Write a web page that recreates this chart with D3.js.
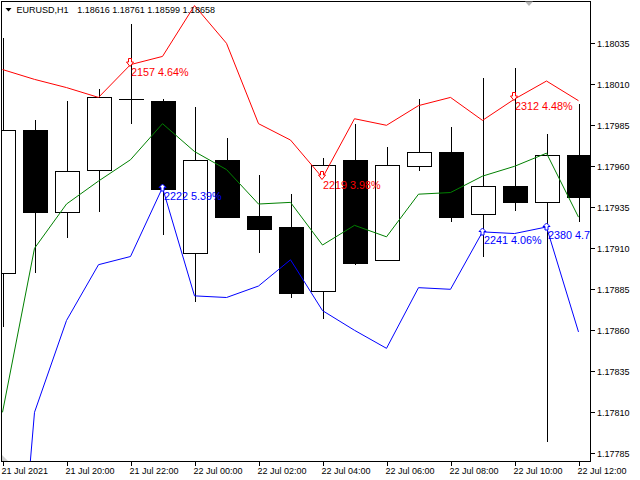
<!DOCTYPE html>
<html><head><meta charset="utf-8">
<script src="https://cdn.jsdelivr.net/npm/d3@7/dist/d3.min.js"></script>
<style>html,body{margin:0;padding:0;background:#fff;}svg{display:block;}</style>
</head><body>
<svg id="c" width="640" height="480"></svg>
<script>
// ---- data ----
const times = ["21 Jul 18:00","21 Jul 19:00","21 Jul 20:00","21 Jul 21:00","21 Jul 22:00","21 Jul 23:00",
  "22 Jul 00:00","22 Jul 01:00","22 Jul 02:00","22 Jul 03:00","22 Jul 04:00","22 Jul 05:00","22 Jul 06:00",
  "22 Jul 07:00","22 Jul 08:00","22 Jul 09:00","22 Jul 10:00","22 Jul 11:00","22 Jul 12:00"];
const opens  = [1.17895,1.17982,1.17932,1.17958,1.18001,1.18000,1.17907,1.17964,1.17930,1.17923,1.17884,1.17964,1.17903,1.17960,1.17969,1.17931,1.17948,1.17938,1.17967];
const highs  = [1.18038,1.17988,1.18000,1.18007,1.18047,1.18001,1.17996,1.17977,1.17955,1.17943,1.17965,1.17986,1.17972,1.18001,1.17984,1.18014,1.18020,1.17980,1.17998];
const lows   = [1.17862,1.17895,1.17916,1.17932,1.17986,1.17918,1.17877,1.17929,1.17907,1.17880,1.17867,1.17900,1.17903,1.17957,1.17926,1.17905,1.17933,1.17792,1.17926];
const closes = [1.17982,1.17932,1.17957,1.18002,1.18001,1.17946,1.17964,1.17929,1.17922,1.17883,1.17961,1.17901,1.17961,1.17969,1.17929,1.17948,1.17938,1.17967,1.17941];
const upperBand  = [1.18019,1.18013,1.18008,1.18002,1.18022,1.18027,1.18058,1.18035,1.17986,1.17976,1.17953,1.17989,1.17985,1.17997,1.18002,1.17988,1.18001,1.18012,1.18000];
const middleBand = [1.17810,1.17910,1.17937,1.17951,1.17964,1.17986,1.17969,1.17958,1.17937,1.17938,1.17912,1.17924,1.17917,1.17943,1.17944,1.17954,1.17960,1.17968,1.17929];
const lowerBand  = [1.17580,1.17810,1.17866,1.17900,1.17905,1.17947,1.17881,1.17880,1.17887,1.17903,1.17872,1.17860,1.17849,1.17886,1.17885,1.17920,1.17919,1.17923,1.17859];
const sellBars = [4,10,16];
const sellTexts = ["2157 4.64%","2219 3.98%","2312 4.48%"];
const buyBars = [5,15,17];
const buyTexts = ["2222 5.39%","2241 4.06%","2380 4.72%"];
const timeTicks = ["21 Jul 18:00","21 Jul 20:00","21 Jul 22:00","22 Jul 00:00","22 Jul 02:00","22 Jul 04:00","22 Jul 06:00","22 Jul 08:00","22 Jul 10:00","22 Jul 12:00"];
const timeTickLabels = ["21 Jul 2021","21 Jul 20:00","21 Jul 22:00","22 Jul 00:00","22 Jul 02:00","22 Jul 04:00","22 Jul 06:00","22 Jul 08:00","22 Jul 10:00","22 Jul 12:00"];
const priceTicks = [1.18035,1.18010,1.17985,1.17960,1.17935,1.17910,1.17885,1.17860,1.17835,1.17810,1.17785];
const headerSymbol = "EURUSD,H1";
const headerValues = "1.18616 1.18761 1.18599 1.18658";

// ---- layout ----
const L = 1.5, T = 1.5, R = 590.5, B = 461.5;
const svg = d3.select("#c");
const x = d3.scalePoint().domain(times).range([2.5, 578.5]);
const y = d3.scaleLinear().domain([1.17785, 1.18035]).range([453.3, 43.3]);
const smallFont = "'Liberation Sans', Arial, sans-serif";

svg.append("defs").append("clipPath").attr("id","plot")
  .append("rect").attr("x",L).attr("y",T).attr("width",R-L).attr("height",B-T);

const g = svg.append("g").attr("clip-path","url(#plot)");

// candles
const bars = times.map((t,i)=>({t, o:opens[i], h:highs[i], l:lows[i], c:closes[i]}));
const cg = g.append("g").attr("shape-rendering","crispEdges");
cg.selectAll("line.wick").data(bars).join("line")
  .attr("x1",d=>Math.round(x(d.t))+0.5).attr("x2",d=>Math.round(x(d.t))+0.5)
  .attr("y1",d=>y(d.h)).attr("y2",d=>y(d.l))
  .attr("stroke","#000").attr("stroke-width",1);
cg.selectAll("rect.body").data(bars).join("rect")
  .attr("x",d=>Math.round(x(d.t))-12+0.5)
  .attr("width",24)
  .attr("y",d=>Math.round(y(Math.max(d.o,d.c)))+0.5)
  .attr("height",d=>Math.max(0.01, Math.round(y(Math.min(d.o,d.c))) - Math.round(y(Math.max(d.o,d.c)))))
  .attr("fill",d=>d.c>=d.o ? "#fff" : "#000")
  .attr("stroke","#000").attr("stroke-width",1);

// band lines
const lineGen = d3.line().x((d,i)=>x(times[i])).y(d=>y(d));
[[upperBand,"#ff0000"],[middleBand,"#008000"],[lowerBand,"#0000ff"]].forEach(([arr,col])=>{
  g.append("path").datum(arr).attr("d",lineGen).attr("fill","none").attr("stroke",col).attr("stroke-width",1);
});

// signal arrows + labels
const labFont = "'Liberation Sans', Arial, sans-serif";
sellBars.forEach((bi,k)=>{
  const px = Math.round(x(times[bi]))-1.5, py = Math.round(y(upperBand[bi]));
  g.append("path")
    .attr("d",`M${px-1},${py-6.5} L${px+2},${py-6.5} L${px+2},${py-3} L${px+4},${py-3} L${px+0.5},${py+1.5} L${px-3},${py-3} L${px-1},${py-3} Z`)
    .attr("fill","#fff").attr("stroke","#ff0000").attr("stroke-width",1);
  g.append("text").attr("x",px+1.5).attr("y",py+11).attr("fill","#ff0000")
    .attr("font-family",labFont).attr("font-size",10.8).text(sellTexts[k]);
});
buyBars.forEach((bi,k)=>{
  const px = Math.round(x(times[bi]))-0.5, py = Math.round(y(lowerBand[bi]));
  g.append("path")
    .attr("d",`M${px},${py-4} L${px+3.5},${py-0.5} L${px+1.5},${py-0.5} L${px+1.5},${py+3} L${px-1.5},${py+3} L${px-1.5},${py-0.5} L${px-3.5},${py-0.5} Z`)
    .attr("fill","#fff").attr("stroke","#0000ff").attr("stroke-width",1);
  g.append("text").attr("x",px+1.5).attr("y",py+11.5).attr("fill","#0000ff")
    .attr("font-family",labFont).attr("font-size",10.8).text(buyTexts[k]);
});

// frame
svg.append("rect").attr("x",L).attr("y",T).attr("width",R-L).attr("height",B-T)
  .attr("fill","none").attr("stroke","#000").attr("stroke-width",1).attr("shape-rendering","crispEdges");

// right price axis
const ya = svg.append("g").attr("shape-rendering","crispEdges");
ya.selectAll("line").data(priceTicks).join("line")
  .attr("x1",R).attr("x2",R+4).attr("y1",d=>Math.round(y(d))+0.5).attr("y2",d=>Math.round(y(d))+0.5)
  .attr("stroke","#000");
ya.selectAll("text").data(priceTicks).join("text")
  .attr("x",597).attr("y",d=>y(d)+3.3).attr("fill","#000")
  .attr("font-family",smallFont).attr("font-size",9).text(d=>d.toFixed(5));

// bottom time axis
const xa = svg.append("g");
xa.selectAll("line").data(timeTicks).join("line")
  .attr("x1",d=>Math.round(x(d))+0.5).attr("x2",d=>Math.round(x(d))+0.5).attr("y1",B).attr("y2",B+4.5)
  .attr("stroke","#000").attr("shape-rendering","crispEdges");
xa.selectAll("text").data(timeTicks).join("text")
  .attr("x",d=>x(d)-1).attr("y",474).attr("fill","#000")
  .attr("font-family",smallFont).attr("font-size",9).text((d,i)=>timeTickLabels[i]);

// header
svg.append("path").attr("d","M5.5,8 L11.5,8 L8.5,11.5 Z").attr("fill","#000");
svg.append("text").attr("x",16.5).attr("y",12.8).attr("font-family",smallFont).attr("font-size",9).attr("fill","#000").text(headerSymbol);
svg.append("text").attr("x",77.3).attr("y",12.8).attr("font-family",smallFont).attr("font-size",9).attr("fill","#000").text(headerValues);

// chart shift marker & corner marker
svg.append("path").attr("d","M525,1.5 L533,1.5 L529,6 Z").attr("fill","#b8b8b8");
svg.append("path").attr("d","M2,455 L2,461 L8,461 Z").attr("fill","#d0d0d0");
</script>
</body></html>
